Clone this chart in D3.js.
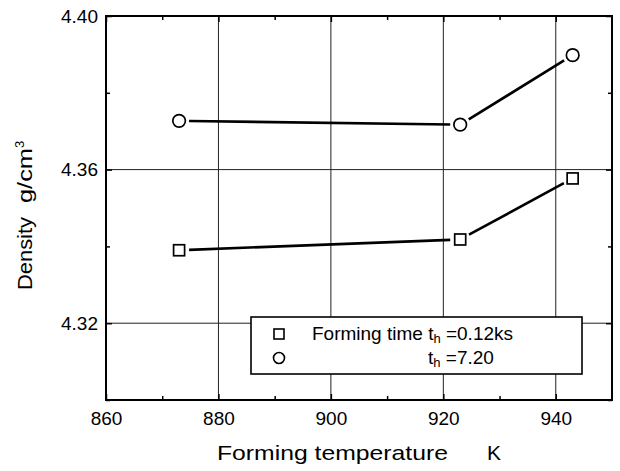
<!DOCTYPE html>
<html><head><meta charset="utf-8">
<script src="https://cdn.jsdelivr.net/npm/d3@7"></script>
<style>body{margin:0;background:#fff}svg{display:block;font-family:"Liberation Sans",Arial,sans-serif}</style>
</head><body><svg id="c" width="620" height="471"></svg>
<script>
const temps = [873, 923, 943];
const density012 = [4.339, 4.3418, 4.3577];
const density720 = [4.3727, 4.3717, 4.3898];
const xTicks = [860, 880, 900, 920, 940];
const yTicks = [4.32, 4.36, 4.40];
const xMinor = [870, 890, 910, 930];
const yMinor = [4.30, 4.34, 4.38];

const svg = d3.select("#c");
const L = 106, R = 612, T = 16, B = 400;
const x = d3.scaleLinear().domain([860, 950]).range([L, R]);
const y = d3.scaleLinear().domain([4.30, 4.40]).range([B, T]);

// gridlines
const g = svg.append("g");
g.selectAll(".gx").data(xTicks.filter(d => d > 860)).enter().append("line")
  .attr("x1", d => x(d)).attr("x2", d => x(d)).attr("y1", T).attr("y2", B)
  .attr("stroke", "#222").attr("stroke-width", 1);
g.selectAll(".gy").data(yTicks.filter(d => d < 4.40)).enter().append("line")
  .attr("y1", d => y(d)).attr("y2", d => y(d)).attr("x1", L).attr("x2", R)
  .attr("stroke", "#222").attr("stroke-width", 1);

// axes (ticks inward)
const fmtY = d3.format(".2f");
function styleAxis(sel) {
  sel.select(".domain").remove();
  sel.selectAll(".tick line").attr("stroke", "#000").attr("stroke-width", 1.5);
  sel.selectAll(".tick text").attr("fill", "#000").attr("font-size", 19)
    .attr("font-family", "Liberation Sans, Arial, sans-serif");
}
svg.append("g").attr("transform", `translate(0,${B})`)
  .call(d3.axisBottom(x).tickValues(xTicks).tickSize(-6).tickPadding(12).tickFormat(d3.format("d")))
  .call(styleAxis);
svg.append("g").attr("transform", `translate(0,${B})`)
  .call(d3.axisBottom(x).tickValues(xMinor).tickSize(-4).tickFormat(""))
  .call(styleAxis);
svg.append("g").attr("transform", `translate(0,${T})`)
  .call(d3.axisTop(x).tickValues(xTicks).tickSize(-6).tickFormat(""))
  .call(styleAxis);
svg.append("g").attr("transform", `translate(0,${T})`)
  .call(d3.axisTop(x).tickValues(xMinor).tickSize(-4).tickFormat(""))
  .call(styleAxis);
svg.append("g").attr("transform", `translate(${L},0)`)
  .call(d3.axisLeft(y).tickValues(yTicks).tickSize(-6).tickPadding(8).tickFormat(fmtY))
  .call(styleAxis);
svg.append("g").attr("transform", `translate(${L},0)`)
  .call(d3.axisLeft(y).tickValues(yMinor).tickSize(-4).tickFormat(""))
  .call(styleAxis);
svg.append("g").attr("transform", `translate(${R},0)`)
  .call(d3.axisRight(y).tickValues(yTicks).tickSize(-6).tickFormat(""))
  .call(styleAxis);
svg.append("g").attr("transform", `translate(${R},0)`)
  .call(d3.axisRight(y).tickValues(yMinor).tickSize(-4).tickFormat(""))
  .call(styleAxis);

// frame
svg.append("rect").attr("x", L).attr("y", T).attr("width", R - L).attr("height", B - T)
  .attr("fill", "none").attr("stroke", "#000").attr("stroke-width", 2);

// series
function segs(vals) {
  const pts = temps.map((t, i) => [x(t), y(vals[i])]);
  const out = [];
  for (let i = 0; i < pts.length - 1; i++) {
    const [x1, y1] = pts[i], [x2, y2] = pts[i + 1];
    const dx = x2 - x1, dy = y2 - y1, len = Math.hypot(dx, dy);
    const gap = 10;
    out.push([x1 + dx / len * gap, y1 + dy / len * gap, x2 - dx / len * gap, y2 - dy / len * gap]);
  }
  return out;
}
[density012, density720].forEach(vals => {
  svg.append("g").selectAll("line").data(segs(vals)).enter().append("line")
    .attr("x1", d => d[0]).attr("y1", d => d[1]).attr("x2", d => d[2]).attr("y2", d => d[3])
    .attr("stroke", "#000").attr("stroke-width", 2.6);
});
svg.append("g").selectAll("rect").data(temps).enter().append("rect")
  .attr("x", (d, i) => x(d) - 5.5).attr("y", (d, i) => y(density012[i]) - 5.5)
  .attr("width", 11).attr("height", 11)
  .attr("fill", "#fff").attr("stroke", "#000").attr("stroke-width", 1.7);
svg.append("g").selectAll("circle").data(temps).enter().append("circle")
  .attr("cx", d => x(d)).attr("cy", (d, i) => y(density720[i])).attr("r", 6.3)
  .attr("fill", "#fff").attr("stroke", "#000").attr("stroke-width", 1.7);

// legend
const lg = svg.append("g");
lg.append("rect").attr("x", 251).attr("y", 317).attr("width", 331).attr("height", 57)
  .attr("fill", "#fff").attr("stroke", "#000").attr("stroke-width", 1.6);
lg.append("rect").attr("x", 274).attr("y", 329).attr("width", 10).attr("height", 10)
  .attr("fill", "#fff").attr("stroke", "#000").attr("stroke-width", 1.6);
lg.append("circle").attr("cx", 279).attr("cy", 358).attr("r", 5.5)
  .attr("fill", "#fff").attr("stroke", "#000").attr("stroke-width", 1.6);
const t1 = lg.append("text").attr("x", 312).attr("y", 340).attr("font-size", 19).attr("fill", "#000");
t1.append("tspan").text("Forming time t");
t1.append("tspan").attr("font-size", 13).attr("dy", 3).text("h");
t1.append("tspan").attr("dy", -3).text(" =0.12ks");
const t2 = lg.append("text").attr("x", 428).attr("y", 364).attr("font-size", 19).attr("fill", "#000");
t2.append("tspan").text("t");
t2.append("tspan").attr("font-size", 13).attr("dy", 3).text("h");
t2.append("tspan").attr("dy", -3).text(" =7.20");

// axis titles
svg.append("text").attr("x", 217).attr("y", 460).attr("font-size", 21).attr("fill", "#000")
  .attr("textLength", 231).attr("lengthAdjust", "spacingAndGlyphs").text("Forming temperature");
svg.append("text").attr("x", 487).attr("y", 460).attr("font-size", 21).attr("fill", "#000").text("K");
const yt = svg.append("text").attr("transform", "translate(32,290) rotate(-90)")
  .attr("font-size", 20).attr("fill", "#000");
yt.append("tspan").attr("textLength", 73).attr("lengthAdjust", "spacingAndGlyphs").text("Density");
yt.append("tspan").attr("x", 87).attr("textLength", 55).attr("lengthAdjust", "spacingAndGlyphs").text("g/cm");
yt.append("tspan").attr("font-size", 13).attr("dy", -8).text("3");
</script></body></html>
